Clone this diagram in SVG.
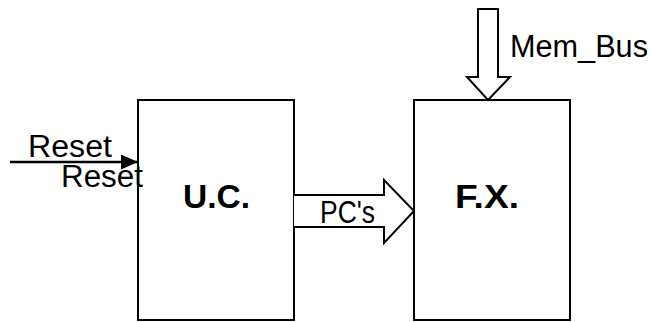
<svg xmlns="http://www.w3.org/2000/svg" width="651" height="322" viewBox="0 0 651 322">
<style>
.box{fill:#fff;stroke:#000;stroke-width:2}
.bus{fill:#fff;stroke:#000;stroke-width:2;stroke-linejoin:miter}
.lbl{font-family:"Liberation Sans",Arial,sans-serif;font-size:31px;fill:#000}
.ttl{font-family:"Liberation Sans",Arial,sans-serif;font-size:33px;font-weight:bold;fill:#000}
</style>
<defs>
<marker id="ah" markerWidth="17" markerHeight="15" refX="17" refY="7.5" orient="auto" markerUnits="userSpaceOnUse">
<path d="M0,0 L17,7.5 L0,15 Z" fill="#000"/>
</marker>
</defs>
<rect width="651" height="322" fill="#fff"/>
<g id="uc">
<rect class="box" x="138" y="100" width="156" height="220"/>
<text class="ttl" x="183" y="208" textLength="67" lengthAdjust="spacingAndGlyphs">U.C.</text>
</g>
<g id="fx">
<rect class="box" x="414" y="100" width="156" height="220"/>
<text class="ttl" x="455" y="208" textLength="64" lengthAdjust="spacingAndGlyphs">F.X.</text>
</g>
<g id="connectors">
<line x1="10" y1="162" x2="138" y2="162" stroke="#000" stroke-width="2.5" marker-end="url(#ah)"/>
<path class="bus" d="M294,195 L384,195 L384,180 L414,211 L384,243 L384,227 L294,227"/>
<path class="bus" d="M478,9 L498,9 L498,77 L510,77 L488,100 L467,77 L478,77 Z"/>
</g>
<g id="labels">
<text class="lbl" x="28" y="157" textLength="84" lengthAdjust="spacingAndGlyphs">Reset</text>
<text class="lbl" x="61" y="187" textLength="82" lengthAdjust="spacingAndGlyphs">Reset</text>
<text class="lbl" x="320" y="223" textLength="55" lengthAdjust="spacingAndGlyphs">PC's</text>
<text class="lbl" x="510" y="57" textLength="138" lengthAdjust="spacingAndGlyphs">Mem_Bus</text>
</g>
</svg>
